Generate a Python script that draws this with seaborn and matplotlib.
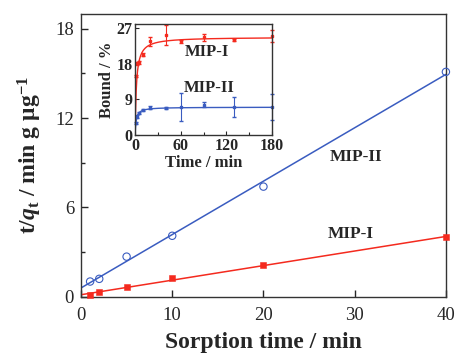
import matplotlib
matplotlib.use("Agg")
import matplotlib.pyplot as plt
import numpy as np
import pandas as pd
import seaborn as sns
from matplotlib.ticker import MultipleLocator

# main plot: t/q_t vs sorption time
SORPTION_TIME = [1, 2, 5, 10, 20, 40]
TQ_MIP1 = [0.13, 0.31, 0.65, 1.25, 2.15, 4.0]
TQ_MIP2 = [1.03, 1.21, 2.7, 4.1, 7.4, 15.1]

# inset: bound % vs time
INSET_TIME = [1, 3, 5, 10, 20, 40, 60, 90, 130, 180]
BOUND_MIP1 = [14.8, 18.1, 18.3, 20.2, 23.6, 25.3, 23.6, 24.6, 23.9, 25.0]
ERR_MIP1 = [0.3, 0.4, 0.4, 0.4, 1.2, 2.5, 0.3, 1.0, 0.3, 1.5]
BOUND_MIP2 = [3.0, 4.6, 5.5, 6.3, 6.9, 6.75, 7.0, 7.6, 7.0, 7.0]
ERR_MIP2 = [0.2, 0.3, 0.3, 0.3, 0.3, 0.2, 3.5, 0.6, 2.5, 3.3]
# pseudo-second-order fit parameters (qe, k)
FIT_MIP1 = (24.7, 0.024)
FIT_MIP2 = (7.0, 0.107)

RED = "#f42a1e"
BLUE = "#3a5cc0"


def setup_style():
    sns.set_theme(style="ticks")
    plt.rcParams["font.family"] = ["Liberation Serif", "DejaVu Serif"]
    plt.rcParams["mathtext.fontset"] = "custom"
    plt.rcParams["mathtext.rm"] = "Liberation Serif:bold"
    plt.rcParams["mathtext.it"] = "Liberation Serif:italic:bold"
    plt.rcParams["mathtext.bf"] = "Liberation Serif:bold"
    plt.rcParams["axes.linewidth"] = 1.0
    plt.rcParams["axes.edgecolor"] = "#333333"
    plt.rcParams["xtick.direction"] = "in"
    plt.rcParams["ytick.direction"] = "in"


def pso(t, qe, k):
    return qe * qe * k * t / (1 + qe * k * t)


def main():
    setup_style()
    fig = plt.figure(figsize=(4.55, 3.53), dpi=100)
    ax = fig.add_axes([0.178, 0.159, 0.802, 0.802])

    df = pd.DataFrame({"time": SORPTION_TIME, "mip1": TQ_MIP1, "mip2": TQ_MIP2})
    xs = np.array([0, 40])
    for col, color in [("mip1", RED), ("mip2", BLUE)]:
        slope, intercept = np.polyfit(df["time"], df[col], 1)
        sns.lineplot(x=xs, y=intercept + slope * xs, color=color, lw=1.1, ax=ax)

    sns.scatterplot(data=df, x="time", y="mip1", marker="s", s=22, color=RED,
                    edgecolor=RED, ax=ax, zorder=3, clip_on=False)
    sns.scatterplot(data=df, x="time", y="mip2", marker="o", s=28, facecolor="none",
                    edgecolor=BLUE, linewidth=0.8, ax=ax, zorder=3, clip_on=False)

    ax.set_xlim(0, 40)
    ax.set_ylim(0, 19)
    ax.xaxis.set_major_locator(MultipleLocator(10))
    ax.yaxis.set_major_locator(MultipleLocator(6))
    ax.yaxis.set_minor_locator(MultipleLocator(3))
    ax.tick_params(axis="both", which="major", length=5, width=1, labelsize=13.5, pad=5)
    ax.tick_params(axis="x", which="major", pad=7)
    ax.tick_params(axis="y", which="minor", length=3, width=1)
    ax.set_xlabel("Sorption time / min", fontsize=17, fontweight="bold", labelpad=6)
    ax.set_ylabel(r"t/$\it{q}_\mathrm{t}$ / min g μg$^\mathrm{-1}$", fontsize=17,
                  fontweight="bold", labelpad=8)
    ax.text(30.2, 9.4, "MIP-II", fontsize=12.5, fontweight="bold", ha="center", va="center")
    ax.text(29.6, 4.2, "MIP-I", fontsize=12.5, fontweight="bold", ha="center", va="center")

    # inset
    ins = fig.add_axes([0.297, 0.618, 0.301, 0.314])
    tt = np.linspace(0, 180, 400)
    sns.lineplot(x=tt, y=pso(tt, *FIT_MIP1), color=RED, lw=1.0, ax=ins)
    sns.lineplot(x=tt, y=pso(tt, *FIT_MIP2), color=BLUE, lw=1.0, ax=ins)
    ins.errorbar(INSET_TIME, BOUND_MIP1, yerr=ERR_MIP1, fmt="s", ms=1.6, color=RED,
                 elinewidth=0.8, capsize=1.3, clip_on=False)
    ins.errorbar(INSET_TIME, BOUND_MIP2, yerr=ERR_MIP2, fmt="s", ms=1.6, color=BLUE,
                 elinewidth=0.8, capsize=1.3, clip_on=False)
    ins.set_xlim(0, 180)
    ins.set_ylim(0, 28)
    ins.xaxis.set_major_locator(MultipleLocator(60))
    ins.xaxis.set_minor_locator(MultipleLocator(30))
    ins.yaxis.set_major_locator(MultipleLocator(9))
    ins.tick_params(axis="both", which="major", length=3, width=0.8, labelsize=11.5, pad=2)
    ins.tick_params(axis="x", which="minor", length=2, width=0.8)
    for lab in ins.get_xticklabels() + ins.get_yticklabels():
        lab.set_fontweight("bold")
    ins.set_xlabel("Time / min", fontsize=12, fontweight="bold", labelpad=1)
    ins.set_ylabel("Bound / %", fontsize=12, fontweight="bold", labelpad=1)
    ins.text(95, 21.0, "MIP-I", fontsize=12, fontweight="bold", ha="center", va="center")
    ins.text(97, 11.9, "MIP-II", fontsize=12, fontweight="bold", ha="center", va="center")

    fig.savefig("out.png", dpi=100)
    plt.close(fig)


if __name__ == "__main__":
    main()
